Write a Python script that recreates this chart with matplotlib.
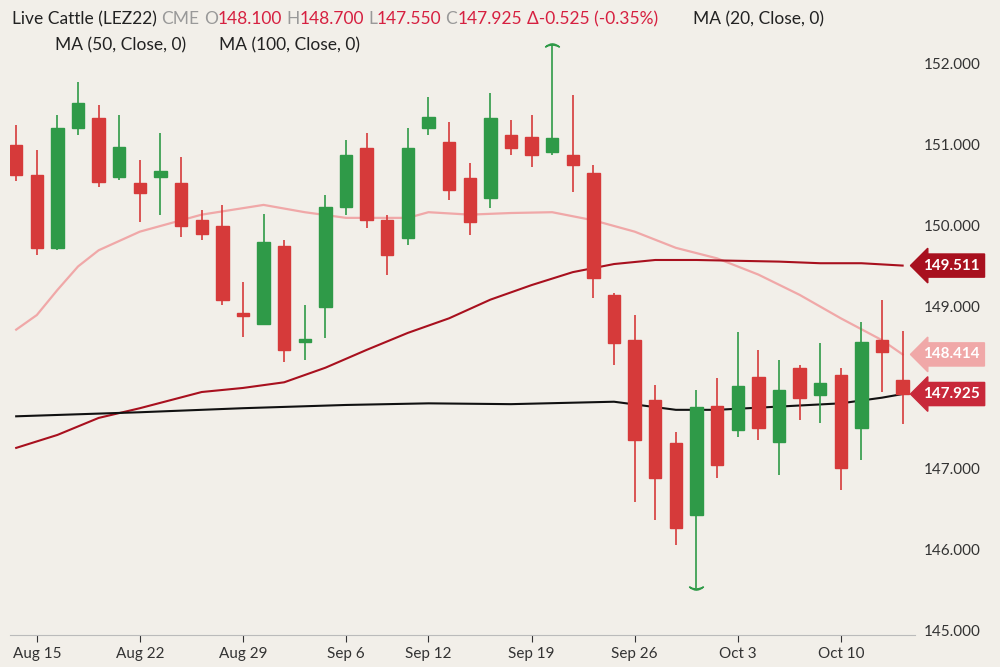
import matplotlib.pyplot as plt
from matplotlib.patches import Rectangle

# OHLC per trading day
opens = [151.0, 150.63, 149.73, 151.21, 151.33, 150.6, 150.53, 150.6, 150.53, 150.07, 150.0, 148.93,
         148.79, 149.75, 148.57, 149.0, 150.23, 150.96, 150.07, 149.85, 151.21, 151.04, 150.59, 150.35,
         151.12, 151.1, 150.91, 150.88, 150.65, 149.15, 148.59, 147.85, 147.32, 146.43, 147.78, 147.48,
         148.14, 147.33, 148.25, 147.91, 148.16, 147.51, 148.59, 148.1]
closes = [150.63, 149.73, 151.21, 151.52, 150.54, 150.98, 150.41, 150.68, 150.0, 149.9, 149.09, 148.89,
          149.8, 148.47, 148.6, 150.23, 150.88, 150.07, 149.64, 150.96, 151.35, 150.44, 150.05, 151.33,
          150.96, 150.88, 151.09, 150.75, 149.36, 148.56, 147.36, 146.89, 146.27, 147.77, 147.05, 148.02,
          147.51, 147.98, 147.88, 148.06, 147.01, 148.57, 148.44, 147.925]
highs = [151.25, 150.94, 151.37, 151.78, 151.49, 151.37, 150.81, 151.15, 150.85, 150.2, 150.26, 149.31,
         150.15, 149.83, 149.02, 150.38, 151.06, 151.15, 150.14, 151.21, 151.59, 151.28, 150.78, 151.64,
         151.31, 151.37, 152.23, 151.62, 150.75, 149.17, 148.9, 148.04, 147.46, 147.98, 148.12, 148.69,
         148.47, 148.35, 148.28, 148.56, 148.25, 148.81, 149.09, 148.7]
lows = [150.55, 149.64, 149.7, 151.12, 150.48, 150.57, 150.05, 150.14, 149.86, 149.83, 149.02, 148.63,
        148.84, 148.32, 148.35, 148.62, 150.14, 149.98, 149.4, 149.77, 151.12, 150.32, 149.89, 150.22,
        150.88, 150.73, 150.88, 150.42, 149.11, 148.28, 146.59, 146.37, 146.06, 145.53, 146.89, 147.4,
        147.36, 146.93, 147.6, 147.57, 146.74, 147.11, 147.95, 147.55]

ma20_idx = [0, 1, 2, 3, 4, 6, 9, 12, 14, 16, 19, 20, 22, 24, 26, 28, 30, 32, 34, 36, 38, 40, 42, 43]
ma20 = [148.72, 148.90, 149.21, 149.50, 149.70, 149.93, 150.14, 150.26, 150.17, 150.10, 150.10, 150.17,
        150.14, 150.16, 150.17, 150.07, 149.93, 149.73, 149.60, 149.40, 149.15, 148.86, 148.59, 148.414]
ma50_idx = [0, 2, 4, 6, 9, 11, 13, 15, 17, 19, 21, 23, 25, 27, 29, 31, 33, 35, 37, 39, 41, 43]
ma50 = [147.26, 147.42, 147.63, 147.75, 147.95, 148.0, 148.07, 148.25, 148.47, 148.68, 148.86, 149.09,
        149.27, 149.43, 149.53, 149.58, 149.58, 149.57, 149.56, 149.54, 149.54, 149.511]
ma100_idx = [0, 6, 11, 16, 20, 24, 29, 32, 34, 37, 40, 42, 43]
ma100 = [147.65, 147.70, 147.75, 147.79, 147.81, 147.80, 147.83, 147.73, 147.73, 147.77, 147.81, 147.88, 147.925]

tick_idx = [1, 6, 11, 16, 20, 25, 30, 35, 40]
tick_labels = ["Aug 15", "Aug 22", "Aug 29", "Sep 6", "Sep 12", "Sep 19", "Sep 26", "Oct 3", "Oct 10"]
# 148 is hidden behind the last-price tag in the original
yticks = [145, 146, 147, 149, 150, 151, 152]

bg = "#f2efe9"
green = "#2f9a48"
red = "#d63a3a"
plt.rcParams["font.family"] = "Lato"

fig = plt.figure(figsize=(10, 6.67), dpi=100, facecolor=bg)
ax = fig.add_axes([0.01, 0.048, 0.905, 0.952], facecolor=bg)

w = 0.6
for i, (o, c, h, l) in enumerate(zip(opens, closes, highs, lows)):
    col = green if c >= o else red
    ax.vlines(i, l, h, color=col, lw=1.2, zorder=3)
    ax.add_patch(Rectangle((i - w / 2, min(o, c)), w, max(abs(c - o), 0.03),
                           facecolor=col, edgecolor=col, zorder=4))

ax.plot(ma20_idx, ma20, color="#f0a8a8", lw=1.6, zorder=2)
ax.plot(ma50_idx, ma50, color="#a8101e", lw=1.5, zorder=2)
ax.plot(ma100_idx, ma100, color="#111111", lw=1.5, zorder=2)

# high/low markers
ax.plot(26, 152.23, marker=r"$\frown$", color=green, ms=10, zorder=5)
ax.plot(33, 145.53, marker=r"$\smile$", color=green, ms=10, zorder=5)

ax.set_xlim(-0.3, 43.6)
ax.set_ylim(144.95, 152.79)
ax.set_xticks(tick_idx, tick_labels)
ax.yaxis.tick_right()
ax.set_yticks(yticks, [f"{v:.3f}" for v in yticks])
ax.tick_params(axis="both", labelsize=11, colors="#333333", length=5)
ax.tick_params(axis="y", length=0, pad=6)
for s in ["top", "left", "right"]:
    ax.spines[s].set_visible(False)
ax.spines["bottom"].set_color("#bbbbbb")

for val, fc in [(149.511, "#a8101e"), (148.414, "#f0a8a8"), (147.925, "#c8283a")]:
    ax.annotate(f"{val:.3f}", (1, val), xycoords=("axes fraction", "data"), xytext=(6, 0),
                textcoords="offset points", va="center", ha="left", fontsize=11, color="white",
                fontweight="bold", bbox=dict(boxstyle="larrow,pad=0.3", fc=fc, ec=fc))

# header, laid out piece by piece
renderer = fig.canvas.get_renderer()


def header(parts, x, y):
    for txt, col, gap in parts:
        t = fig.text(x, y, txt, fontsize=12.5, color=col)
        bb = t.get_window_extent(renderer)
        x += bb.width / fig.bbox.width + gap


grey = "#999999"
pink = "#d62040"
dark = "#222222"
header([("Live Cattle (LEZ22)", dark, 0.004), ("CME", grey, 0.005), ("O", grey, 0.0),
        ("148.100", pink, 0.004), ("H", grey, 0.0), ("148.700", pink, 0.004),
        ("L", grey, 0.0), ("147.550", pink, 0.004), ("C", grey, 0.0),
        ("147.925", pink, 0.005), ("\u0394-0.525 (-0.35%)", pink, 0.0)], 0.012, 0.964)
fig.text(0.693, 0.964, "MA (20, Close, 0)", fontsize=12.5, color=dark)
fig.text(0.055, 0.924, "MA (50, Close, 0)", fontsize=12.5, color=dark)
fig.text(0.219, 0.924, "MA (100, Close, 0)", fontsize=12.5, color=dark)

fig.savefig("out.png", dpi=100, facecolor=bg)
